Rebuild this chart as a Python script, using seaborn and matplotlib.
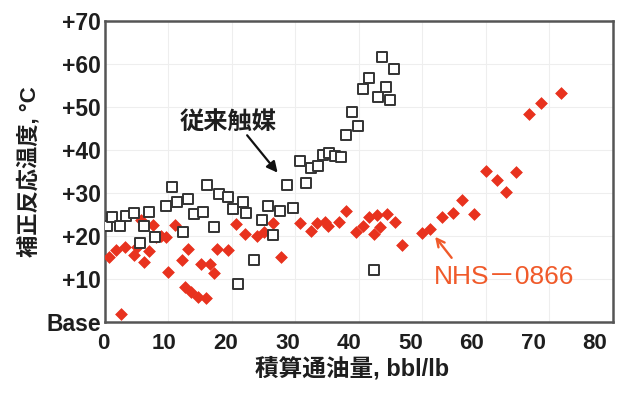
import numpy as np
import pandas as pd
import matplotlib
matplotlib.use("Agg")
import matplotlib.pyplot as plt
import matplotlib.transforms as mtransforms
import seaborn as sns

# 従来触媒 (open squares)
conv_x = [0.3, 1.2, 2.4, 3.4, 4.6, 5.5, 6.2, 7.0, 7.9, 9.6, 10.6, 11.4, 13.1, 12.3, 14.1,
          15.4, 16.1, 17.2, 18.0, 19.4, 20.2, 21.7, 22.2, 20.9, 23.5, 24.8, 25.7, 26.5,
          27.6, 28.6, 29.6, 30.8, 31.7, 32.5, 33.6, 34.3, 35.3, 36.2, 37.2, 38.0, 38.9,
          39.9, 40.7, 41.6, 42.4, 43.0, 43.7, 44.3, 44.9, 45.5]
conv_y = [22.3, 24.5, 22.3, 24.6, 25.4, 18.4, 22.3, 25.6, 19.8, 27.0, 31.3, 27.9, 28.5, 21.0, 25.0,
          25.6, 31.9, 22.0, 29.8, 29.0, 26.2, 27.9, 25.3, 8.8, 14.4, 23.7, 27.0, 20.2,
          25.9, 31.8, 26.4, 37.5, 32.2, 35.7, 36.3, 38.8, 39.2, 38.6, 38.4, 43.5, 48.7,
          45.6, 54.1, 56.7, 12.1, 52.3, 61.7, 54.7, 51.6, 58.8]

# NHS-0866 (filled diamonds)
nhs_x = [0.7, 1.7, 2.6, 3.2, 4.6, 5.1, 5.7, 6.1, 7.0, 7.5, 8.1, 8.9, 9.6, 10.0, 11.0, 12.1,
         13.1, 12.6, 13.6, 14.7, 16.0, 15.2, 16.5, 17.2, 17.7, 19.4, 20.7, 22.1, 23.9, 25.0,
         26.4, 27.7, 30.7, 32.4, 33.4, 34.6, 35.2, 36.9, 38.0, 39.5, 40.7, 41.6, 42.8, 42.4,
         43.3, 44.5, 45.7, 46.8, 50.0, 51.2, 53.1, 54.8, 56.3, 58.1, 60.0, 61.7, 63.1, 64.8,
         66.8, 68.6, 71.8]
nhs_y = [15.0, 16.7, 1.9, 17.5, 15.6, 17.4, 23.7, 14.0, 16.6, 22.6, 19.8, 20.0, 19.8, 11.7, 22.6, 14.4,
         16.9, 8.2, 6.9, 5.7, 5.6, 13.4, 13.4, 11.3, 17.0, 16.7, 22.8, 20.5, 20.0, 20.9,
         23.1, 15.2, 23.0, 21.2, 23.1, 23.3, 22.2, 23.3, 25.7, 20.8, 22.3, 24.3, 24.9, 20.5,
         22.0, 25.1, 23.3, 17.9, 20.6, 21.5, 24.5, 25.4, 28.4, 25.1, 35.1, 32.9, 30.1, 34.8,
         48.4, 50.9, 53.3]

x_ticks = [0, 10, 20, 30, 40, 50, 60, 70, 80]
y_ticks = [0, 10, 20, 30, 40, 50, 60, 70]
y_ticklabels = ["Base", "+10", "+20", "+30", "+40", "+50", "+60", "+70"]

sns.set_theme(style="white")
plt.rcParams['font.family'] = ['Liberation Sans', 'Noto Sans CJK JP', 'DejaVu Sans']

RED = "#e8321e"
TXT_RED = "#f05a2a"
FRAME = "#555555"
DARK = "#1e1e1e"

fig = plt.figure(figsize=(6.28, 3.94), dpi=100)
ax = fig.add_axes([0.167, 0.183, 0.809, 0.764])

df_nhs = pd.DataFrame({"x": nhs_x, "y": nhs_y})
df_conv = pd.DataFrame({"x": conv_x, "y": conv_y})

sns.scatterplot(data=df_nhs, x="x", y="y", marker="D", s=36, color=RED,
                edgecolor=RED, linewidth=0.5, ax=ax, zorder=3)
sns.scatterplot(data=df_conv, x="x", y="y", marker="s", s=50, facecolor="white",
                edgecolor="#333333", linewidth=1.4, ax=ax, zorder=4)

ax.set_xlim(0, 80)
ax.set_ylim(0, 70)
ax.set_xticks(x_ticks)
ax.set_yticks(y_ticks)
ax.set_xticklabels([str(t) for t in x_ticks])
ax.set_yticklabels(y_ticklabels)
ax.tick_params(axis='x', labelsize=16, length=0, pad=8)
ax.tick_params(axis='y', labelsize=16.5, length=0, pad=3)
for lab in ax.get_xticklabels() + ax.get_yticklabels():
    lab.set_fontweight('bold')
    lab.set_color(DARK)
# the original's x tick labels drift slightly left of their ticks
for t, lab in zip(x_ticks, ax.get_xticklabels()):
    dx = -(2 + t * 0.2) / 100.0
    lab.set_transform(lab.get_transform() +
                      mtransforms.ScaledTranslation(dx, 0, fig.dpi_scale_trans))

ax.grid(True, color="#eeeeee", linewidth=0.8)
ax.set_axisbelow(True)
for sp in ax.spines.values():
    sp.set_visible(True)
    sp.set_color(FRAME)
    sp.set_linewidth(1.8)

ax.set_xlabel("積算通油量, bbl/lb", fontsize=17, fontweight='bold', color=DARK, labelpad=2)
ax.xaxis.label.set_x(0.486)
ax.set_ylabel("補正反応温度, °C", fontsize=16, fontweight='bold', color=DARK, labelpad=4)

ax.text(19.4, 46.5, "従来触媒", fontsize=17.5, fontweight='bold', color=DARK,
        ha='center', va='center')
ax.annotate("", xy=(27.2, 34.7), xytext=(22.4, 43.4),
            arrowprops=dict(arrowstyle="-|>", color='#111111', lw=1.6,
                            shrinkA=0, shrinkB=0, mutation_scale=16))
ax.annotate("", xy=(52.0, 19.8), xytext=(54.6, 14.9),
            arrowprops=dict(arrowstyle="->", color=TXT_RED, lw=1.7,
                            shrinkA=0, shrinkB=0, mutation_scale=14))
ax.text(62.8, 10.5, "NHS－0866", fontsize=19, color=TXT_RED, ha='center', va='center')

fig.savefig("out.png", dpi=100)
